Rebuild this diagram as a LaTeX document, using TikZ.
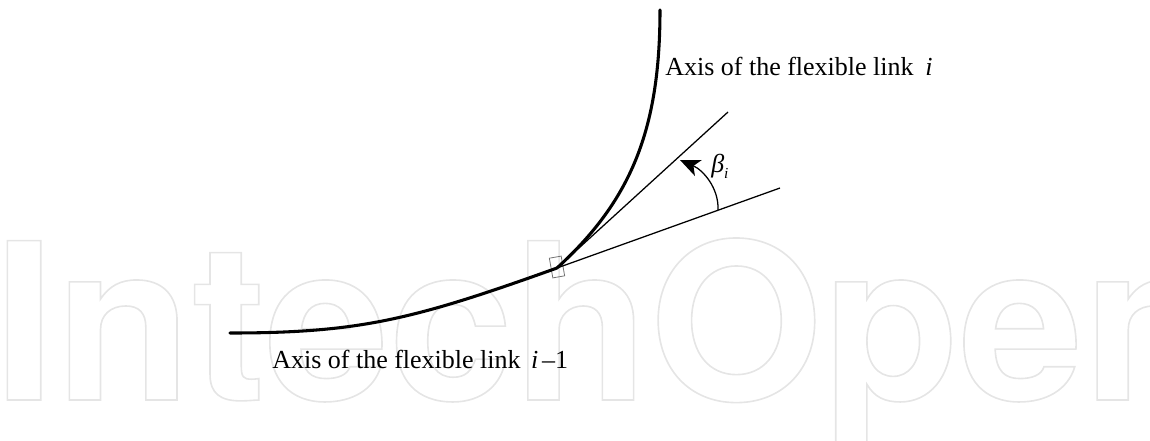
\documentclass[tikz,border=0pt]{standalone}
\usepackage{fontspec}
\setmainfont{Liberation Serif}
\newfontfamily\wmfont{TeX Gyre Heros}
\usetikzlibrary{arrows.meta}
\begin{document}
\begin{tikzpicture}[x=0.75pt,y=-0.75pt,
  axis/.style={line width=2.3pt, line cap=round},
  tline/.style={line width=0.95pt},
  lbl/.style={inner sep=0pt, anchor=base west, font=\fontsize{19.5}{22}\selectfont},
  joint/.style={draw=black!55, line width=0.6pt, minimum width=9pt, minimum height=15pt, inner sep=0pt, rotate=10},
  ]
\useasboundingbox (0,0) rectangle (1150,440);
\begin{scope}
\clip (0,0) rectangle (1150,440);
\node[anchor=base west, inner sep=0pt, xscale=1.02, text=black!10] (wm) at (-7,400)
  {\wmfont\bfseries\fontsize{164}{164}\selectfont\special{pdf:literal direct 1.2 w 1 Tr}IntechOpen\special{pdf:literal direct 0 Tr}};
\end{scope}
\coordinate (J) at (557,268);
\coordinate (A0) at (230,333);
\coordinate (B1) at (660,10);
\coordinate (U) at (728,112);
\coordinate (L) at (780,188);
\coordinate (a1) at (718,210);
\coordinate (a2) at (680,160);
\node[joint] (sq) at (557,267) {};
\draw[axis] (A0) .. controls (360,333) and (414,319.3) .. (J);
\draw[axis] (J) .. controls (630.8,200.6) and (660,130) .. (B1);
\draw[tline] (J) -- (U);
\draw[tline] (J) -- (L);
\draw[tline, -{Stealth[length=15pt,width=13pt,inset=4pt]}] (a1) .. controls (719,188) and (703,170) .. (a2);
\node[lbl] (t1) at (665,75) {Axis of the flexible link\hspace{0.45em}\textit{i}};
\node[lbl] (t2) at (272,368) {Axis of the flexible link\hspace{0.4em}\textit{i}\hspace{0.15em}–1};
\node[lbl] (b) at (711,172) {\textit{β}\raisebox{-5pt}{\fontsize{11.5}{12}\selectfont\textit{i}}};
\end{tikzpicture}
\end{document}
